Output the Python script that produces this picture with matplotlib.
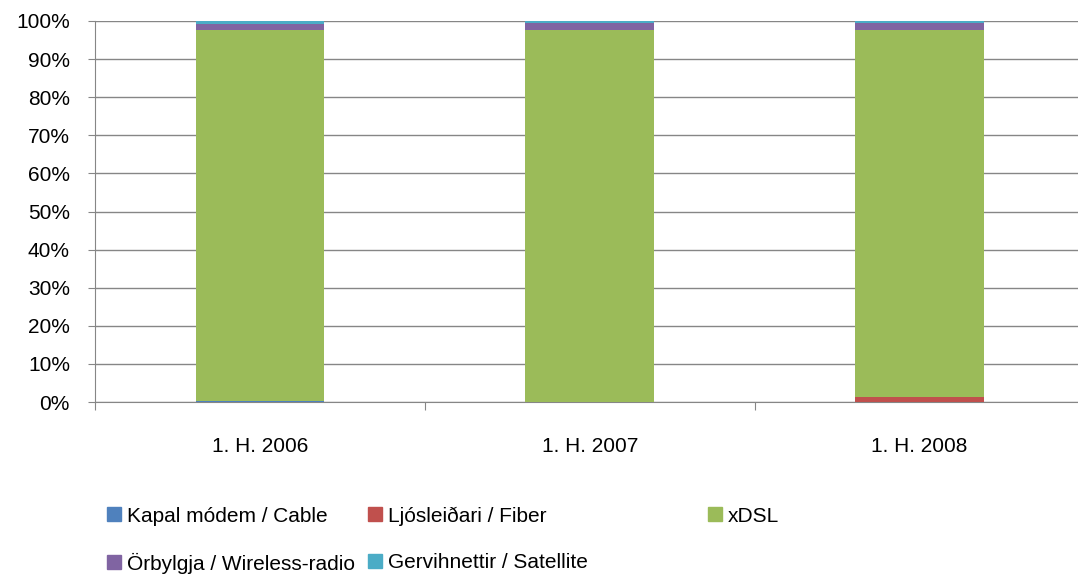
import numpy as np
import matplotlib.pyplot as plt
from matplotlib.patches import Patch

plt.rcParams['font.family'] = ['Liberation Sans', 'DejaVu Sans']

# Data (share of connections, %)
periods = ["1. H. 2006", "1. H. 2007", "1. H. 2008"]
cable = [0.3, 0.0, 0.0]
fiber = [0.0, 0.1, 1.2]
xdsl = [97.4, 97.6, 96.5]
wireless = [1.6, 1.7, 1.7]
satellite = [0.7, 0.6, 0.6]

names = ["Kapal módem / Cable", "Ljósleiðari / Fiber", "xDSL",
         "Örbylgja / Wireless-radio", "Gervihnettir / Satellite"]
colors = ["#4F81BD", "#C0504D", "#9BBB59", "#8064A2", "#4BACC6"]

W, H = 1078, 576
fig = plt.figure(figsize=(W / 100, H / 100), dpi=100)
ax = fig.add_axes([95 / W, 1 - 402 / H, 1 - 95 / W, 381 / H])

x = np.arange(len(periods))
bottom = np.zeros(len(periods))
for vals, c in zip([cable, fiber, xdsl, wireless, satellite], colors):
    ax.bar(x, vals, width=0.39, bottom=bottom, color=c, zorder=3)
    bottom += np.array(vals)

ax.set_ylim(0, 100)
ax.set_xlim(-0.5, 2.48)
ax.set_yticks(range(0, 101, 10))
ax.set_yticklabels([f"{v}%" for v in range(0, 101, 10)], fontsize=15)
ax.yaxis.grid(True, color="#868686", linewidth=1, zorder=0)
ax.set_xticks([-0.5, 0.5, 1.5])
ax.set_xticks(x, minor=True)
ax.set_xticklabels([])
ax.set_xticklabels(periods, minor=True, fontsize=15)
ax.tick_params(axis="x", which="major", length=6, color="#868686")
ax.tick_params(axis="x", which="minor", length=0, pad=25)
ax.tick_params(axis="y", length=5, color="#868686", pad=13)
for s in ["top", "right"]:
    ax.spines[s].set_visible(False)
for s in ["left", "bottom"]:
    ax.spines[s].set_color("#868686")

# legend entries placed like the original (two rows)
spots = [(107, 516), (368, 516), (708, 516), (107, 563), (368, 563)]
for n, c, (px, py) in zip(names, colors, spots):
    leg = fig.legend([Patch(color=c)], [n], loc="center left",
                     bbox_to_anchor=(px / W, 1 - py / H), frameon=False,
                     fontsize=15, handlelength=0.67, handleheight=0.67,
                     handletextpad=0.3, borderaxespad=0, borderpad=0)

fig.savefig("out.png", dpi=100)
